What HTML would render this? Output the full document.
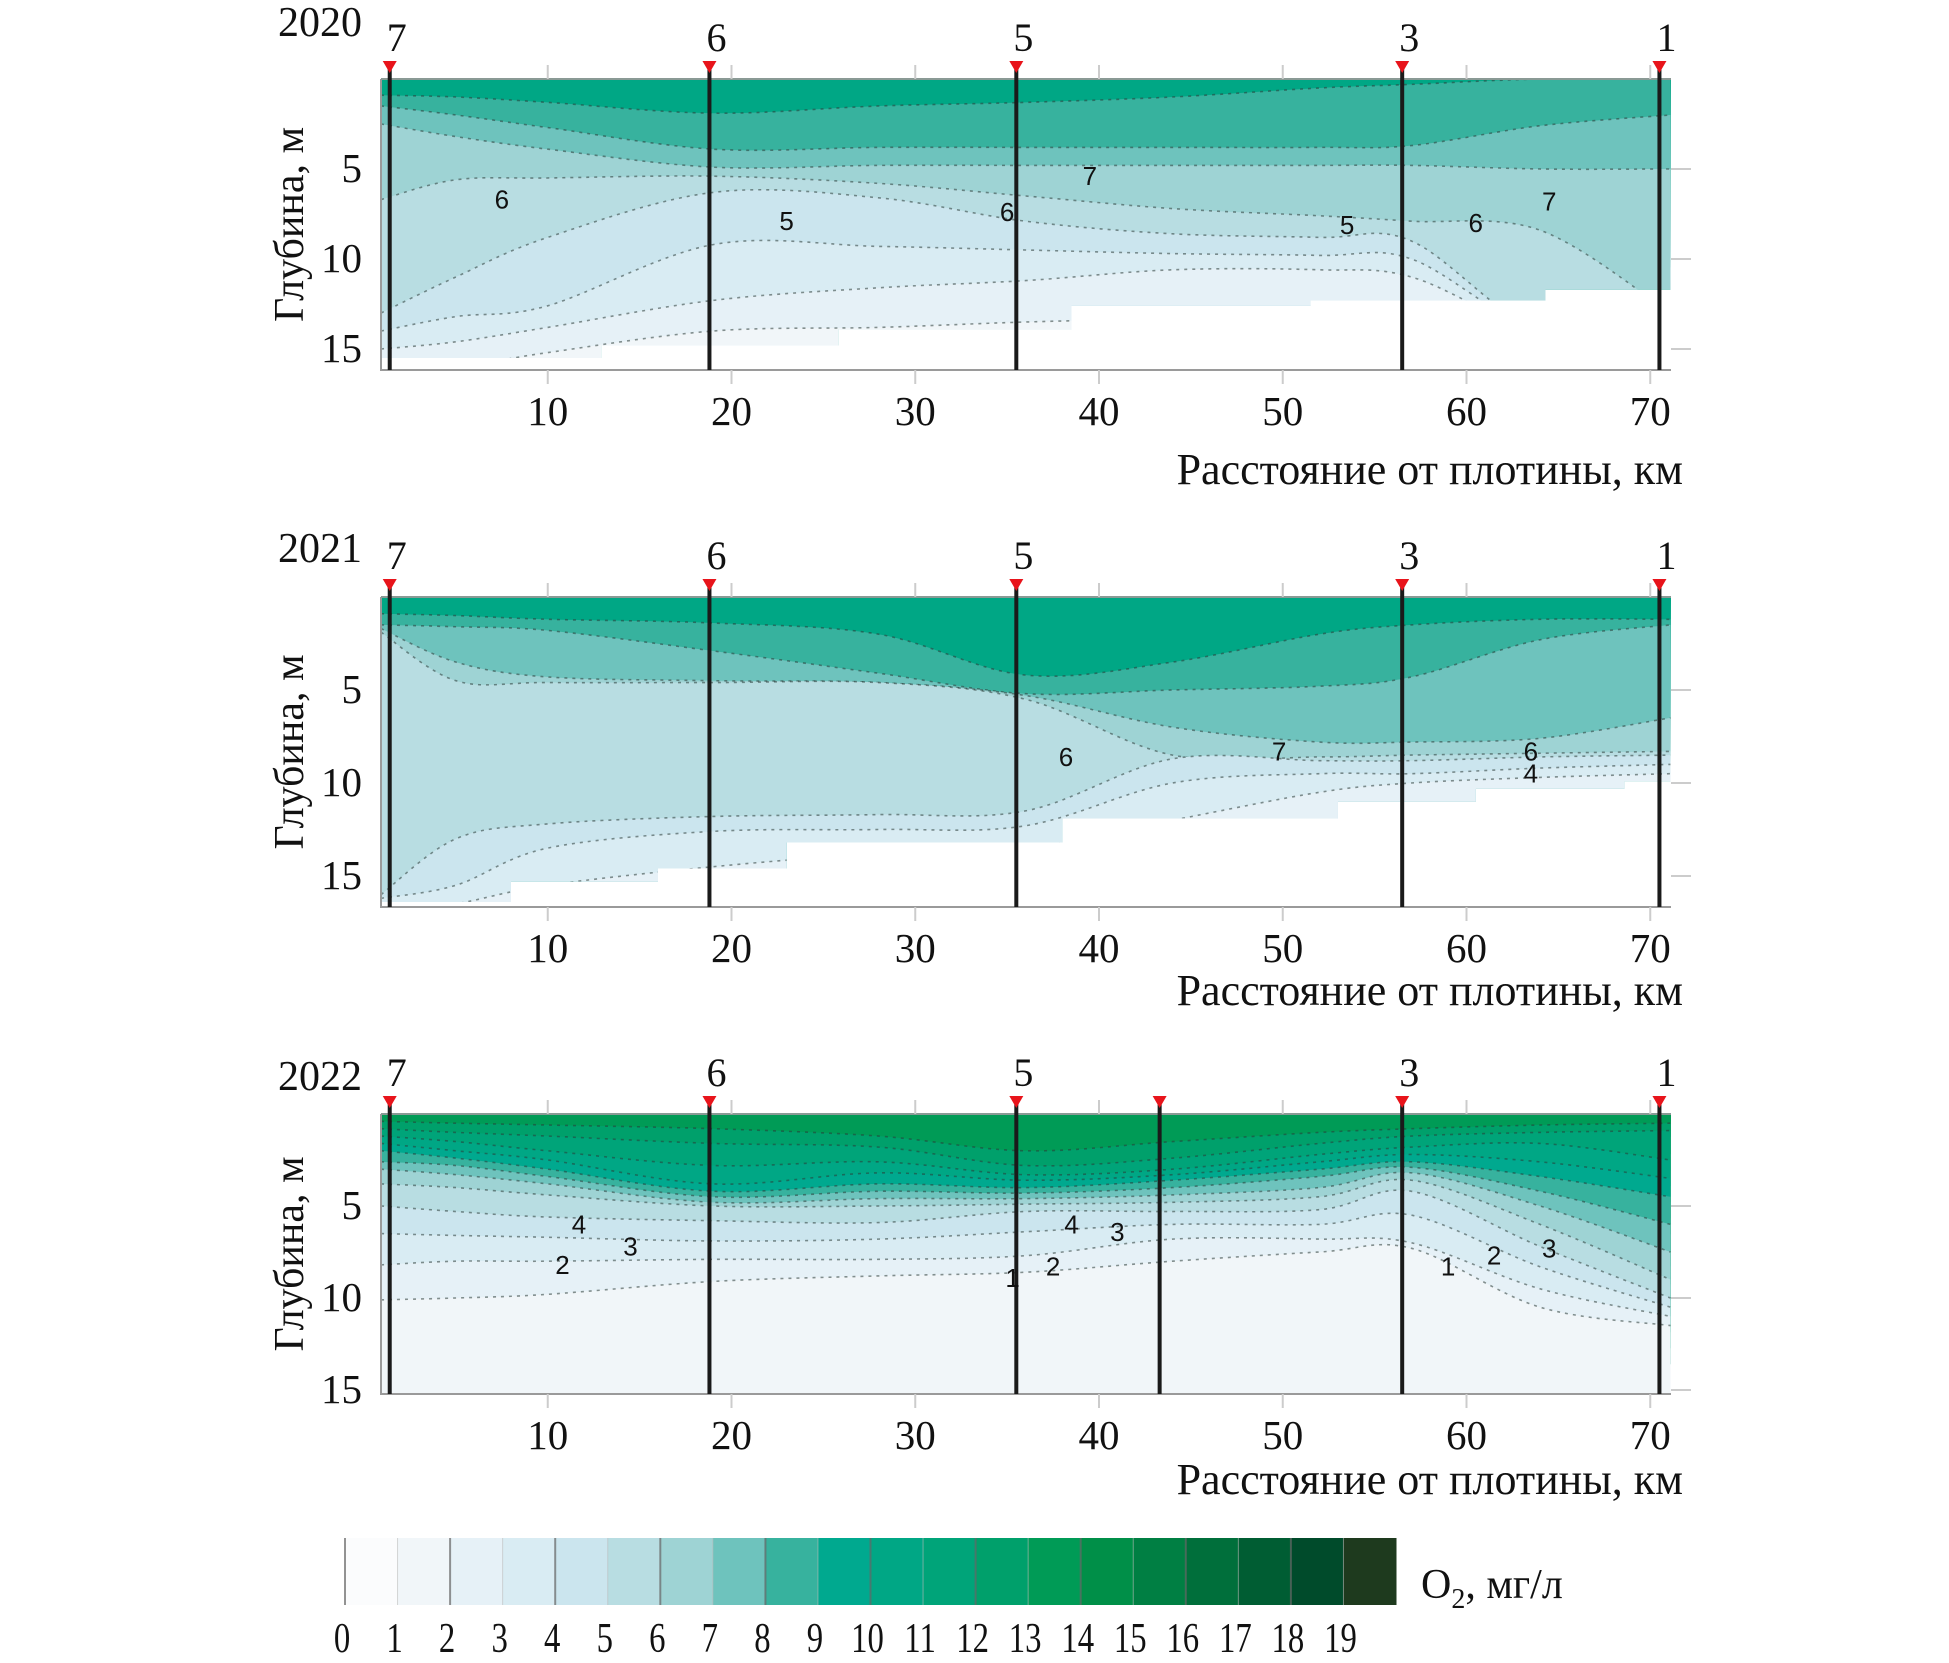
<!DOCTYPE html>
<html><head><meta charset="utf-8"><style>
html,body{margin:0;padding:0;background:#fff;}
svg{display:block;font-family:"Liberation Serif",serif;}
</style></head><body>
<svg id="fig" width="1949" height="1663" viewBox="0 0 1949 1663" xmlns="http://www.w3.org/2000/svg"></svg>
<script>
// ---------- data ----------
const binColors = ["#fbfcfd","#f1f6f9","#e6f1f7","#d9ecf3","#cbe5ee","#b8dde2","#9ed3d4","#6ec3bd","#37b29e","#00a98f","#00a785","#00a479","#00a06b","#009b56","#008f48","#007f43","#006f3b","#005d33","#004b2b","#1e3a1e"];
const colorbarLabels = [0,1,2,3,4,5,6,7,8,9,10,11,12,13,14,15,16,17,18,19];
const xTicks = [10,20,30,40,50,60,70];
const yTicks = [5,10,15];
const stationKm = [1.4, 18.8, 35.5, 56.5, 70.5];
const stationNames = ["7","6","5","3","1"];
const extraStation2022 = [43.3];
const gridKm = [0.93,5,10,19,28,36,44,52,57,64,71.1];

// 2020
const top2020 = 10;
const b2020_9 = [0.9,1.0,1.3,1.9,1.5,1.3,1.0,0.5,0.3,0,0];
const b2020_8 = [1.5,2.0,2.7,3.9,3.8,3.8,3.8,3.8,3.7,2.6,2.0];
const b2020_7 = [2.5,3.2,3.9,4.9,4.8,4.8,4.8,4.8,4.8,5.0,5.0];
const b2020_6 = [6.7,5.6,5.5,5.4,5.8,6.5,7.2,7.6,7.9,8.4,13];
const b2020_5 = [13,11,8.8,6.3,6.6,7.9,8.6,8.8,9.0,14,14];
const b2020_4 = [14,13.2,12.6,9.2,9.3,9.5,9.7,9.8,10.0,14,14];
const b2020_3 = [15,14.6,13.8,12.3,11.6,11.2,10.6,10.6,11,14,14];
const b2020_2 = [16,16,15.2,14,13.8,13.5,13.3,13,13,14,14];
const bot2020_k = [0.93,12.9,12.9,25.8,25.8,38.5,38.5,51.5,51.5,64.3,64.3,71.1];
const bot2020_d = [15.5,15.5,14.8,14.8,13.9,13.9,12.6,12.6,12.3,12.3,11.7,11.7];

// 2021
const top2021 = 10;
const b2021_9 = [0.9,1.0,1.2,1.4,2.0,4.2,3.5,2.0,1.5,1.2,1.2];
const b2021_8 = [1.5,1.6,1.8,2.9,4.1,5.2,5.0,4.8,4.3,2.3,1.5];
const b2021_7 = [1.7,3.5,4.3,4.5,4.6,5.3,7.0,7.8,7.8,7.6,6.5];
const b2021_6 = [1.9,4.5,4.6,4.6,4.6,5.5,8.5,8.6,8.5,8.4,8.3];
const b2021_5 = [16,13,12.2,11.8,11.7,11.5,8.7,8.8,8.8,8.6,8.5];
const b2021_4 = [16.2,15.5,13.5,12.6,12.5,12.3,10.0,9.5,9.5,9.2,9.0];
const b2021_3 = [17,16.5,15.5,14.5,13.8,13.5,12,10.5,10.0,9.7,9.5];
const bot2021_k = [0.93,8,8,16,16,23,23,38,38,53,53,60.5,60.5,68.6,68.6,71.1];
const bot2021_d = [16.4,16.4,15.3,15.3,14.6,14.6,13.2,13.2,11.9,11.9,11,11,10.3,10.3,9.9,9.9];

// 2022
const top2022 = 13;
const b2022_12 = [0.4,0.5,0.6,0.8,1.2,2.0,1.5,1.0,0.8,0.6,0.5];
const b2022_11 = [0.8,1.0,1.2,1.6,1.8,2.8,2.4,1.6,1.2,1.0,0.9];
const b2022_10 = [1.2,1.5,2.0,2.8,2.6,3.3,3.0,2.2,1.8,1.6,2.5];
const b2022_9 = [1.6,2.0,2.5,3.8,3.2,3.6,3.3,2.6,2.2,2.6,3.5];
const b2022_8 = [2.0,2.4,3.0,4.2,3.8,4.0,3.6,3.0,2.6,3.4,4.5];
const b2022_7 = [2.6,2.8,3.4,4.5,4.2,4.3,4.0,3.4,2.9,4.2,6.0];
const b2022_6 = [3.0,3.3,3.8,4.8,4.6,4.6,4.4,4.0,3.2,5.0,7.5];
const b2022_5 = [3.8,4.0,4.4,5.0,5.0,4.9,4.8,4.5,3.6,6.0,9.0];
const b2022_4 = [5.0,5.3,5.6,5.8,5.9,5.3,5.3,5.2,4.2,7.2,10.0];
const b2022_3 = [6.5,6.6,6.7,6.9,6.8,6.4,6.0,6.0,5.5,8.3,10.5];
const b2022_2 = [8.2,8.0,8.0,7.9,7.9,7.7,6.8,6.8,7.0,9.5,11];
const b2022_1 = [10.1,10.0,9.8,9.1,8.8,8.6,8.0,7.5,7.3,10.5,11.5];
const bot2022_k = [0.93,71.1];
const bot2022_d = [15.2,15.2];

// ---------- drawing ----------
const NS = "http://www.w3.org/2000/svg";
const svg = document.getElementById("fig");
function mk(tag, attrs, parent){
  const e = document.createElementNS(NS, tag);
  for (const k in attrs) e.setAttribute(k, attrs[k]);
  (parent||svg).appendChild(e);
  return e;
}
const X = km => 364 + km*18.375;
const PL = 381, PR = 1671;

function smoothPath(pts){
  let d = "M"+pts[0][0]+","+pts[0][1];
  for (let i=0;i<pts.length-1;i++){
    const p0 = pts[Math.max(0,i-1)], p1 = pts[i], p2 = pts[i+1], p3 = pts[Math.min(pts.length-1,i+2)];
    const c1x = p1[0]+(p2[0]-p0[0])/6, c1y = p1[1]+(p2[1]-p0[1])/6;
    const c2x = p2[0]-(p3[0]-p1[0])/6, c2y = p2[1]-(p3[1]-p1[1])/6;
    d += " C"+c1x+","+c1y+" "+c2x+","+c2y+" "+p2[0]+","+p2[1];
  }
  return d;
}

function panel(cfg){
  const Y = d => cfg.top + d*cfg.s;
  const g = mk("g", {});
  
  
  const cp = mk("clipPath", {id:"clip"+cfg.year}, g);
  let cd = "M"+PL+","+cfg.top;
  for (let i=0;i<cfg.botK.length;i++) cd += " L"+X(cfg.botK[i])+","+Math.min(Y(cfg.botD[i]),cfg.bottom);
  cd += " L"+PR+","+cfg.top+" Z";
  mk("path", {d:cd}, cp);
  const fg = mk("g", {"clip-path":"url(#clip"+cfg.year+")"}, g);
  const topRect = mk("rect", {x:PL,y:cfg.top,width:PR-PL,height:cfg.bottom-cfg.top,fill:binColors[cfg.topBin]}, fg);
  
  
  cfg.bounds.forEach(b=>{
    const pts = gridKm.map((k,i)=>[X(k), Y(b.depth[i])]);
    const line = smoothPath(pts);
    const area = line + " L"+PR+","+(cfg.bottom+50)+" L"+PL+","+(cfg.bottom+50)+" Z";
    const band = mk("path", {d:area, fill:binColors[b.bin]}, fg);
    
    
    const cl = mk("path", {d:line, fill:"none", stroke:"#2a3a36", "stroke-width":1.6, "stroke-dasharray":"3 5", opacity:0.55}, fg);
    
    
  });
  const ax = mk("path", {d:"M"+PL+","+cfg.top+" L"+PL+","+cfg.bottom+" L"+PR+","+cfg.bottom, fill:"none", stroke:"#9a9a9a", "stroke-width":2}, g);
  
  
  mk("line", {x1:PL,y1:cfg.top,x2:PR,y2:cfg.top,stroke:"#8a9a95","stroke-width":2}, g);
  xTicks.forEach(t=>{
    mk("line",{x1:X(t),y1:cfg.top-14,x2:X(t),y2:cfg.top,stroke:"#ccc","stroke-width":2},g);
    mk("line",{x1:X(t),y1:cfg.bottom,x2:X(t),y2:cfg.bottom+14,stroke:"#ccc","stroke-width":2},g);
    const tl = mk("text",{x:X(t),y:cfg.bottom+55,"font-size":41,"text-anchor":"middle",fill:"#111"},g);
    tl.textContent = t;
    
    
  });
  yTicks.forEach(t=>{
    mk("line",{x1:PR,y1:Y(t),x2:PR+20,y2:Y(t),stroke:"#ccc","stroke-width":2},g);
    const tl = mk("text",{x:362,y:Y(t)+13,"font-size":41,"text-anchor":"end",fill:"#111"},g);
    tl.textContent = t;
    
    
  });
  const xt = mk("text",{x:1683,y:cfg.xTitleY,"font-size":44,"text-anchor":"end",fill:"#111"},g);
  xt.textContent = "Расстояние от плотины, км";
  
  
  const yc = (cfg.top+cfg.bottom)/2;
  const yt = mk("text",{x:0,y:0,"font-size":42,"text-anchor":"middle",fill:"#111",transform:"translate(303,"+yc+") rotate(-90)"},g);
  yt.textContent = "Глубина, м";
  
  
  const yr = mk("text",{x:362,y:cfg.yearY,"font-size":42,"text-anchor":"end",fill:"#111"},g);
  yr.textContent = cfg.year;
  
  
  const all = stationKm.map((k,i)=>[k,stationNames[i]]).concat(cfg.extra.map(k=>[k,""]));
  all.forEach(([k,n])=>{
    const x = X(k);
    const sl = mk("line",{x1:x,y1:cfg.top-12,x2:x,y2:cfg.bottom,stroke:"#1a1a1a","stroke-width":4},g);
    
    
    const tri = mk("path",{d:"M"+(x-7)+","+(cfg.top-18)+" L"+(x+7)+","+(cfg.top-18)+" L"+x+","+(cfg.top-6)+" Z",fill:"#e8141b"},g);
    
    
    if (n){
      const st = mk("text",{x:x+7,y:cfg.top-28,"font-size":40,"text-anchor":"middle",fill:"#111"},g);
      st.textContent = n;
      
      
    }
  });
  cfg.labels.forEach(([k,d,t])=>{
    const cl = mk("text",{x:X(k),y:Y(d)+9,"font-size":26,"font-family":"Liberation Sans, sans-serif","text-anchor":"middle",fill:"#111"},g);
    cl.textContent = t;
    
    
  });
}

panel({year:"2020", top:79, bottom:370, s:18, topBin:top2020, botK:bot2020_k, botD:bot2020_d, extra:[], xTitleY:484, yearY:36,
  bounds:[{bin:8,depth:b2020_9},{bin:7,depth:b2020_8},{bin:6,depth:b2020_7},{bin:5,depth:b2020_6},{bin:4,depth:b2020_5},{bin:3,depth:b2020_4},{bin:2,depth:b2020_3},{bin:1,depth:b2020_2}],
  labels:[[7.5,6.7,"6"],[39.5,5.4,"7"],[64.5,6.8,"7"],[23,7.9,"5"],[35,7.4,"6"],[53.5,8.1,"5"],[60.5,8.0,"6"]]});
panel({year:"2021", top:597, bottom:907, s:18.6, topBin:top2021, botK:bot2021_k, botD:bot2021_d, extra:[], xTitleY:1005, yearY:562,
  bounds:[{bin:8,depth:b2021_9},{bin:7,depth:b2021_8},{bin:6,depth:b2021_7},{bin:5,depth:b2021_6},{bin:4,depth:b2021_5},{bin:3,depth:b2021_4},{bin:2,depth:b2021_3}],
  labels:[[38.2,8.6,"6"],[49.8,8.3,"7"],[63.5,8.3,"6"],[63.5,9.5,"4"]]});
panel({year:"2022", top:1114, bottom:1394, s:18.4, topBin:top2022, botK:bot2022_k, botD:bot2022_d, extra:extraStation2022, xTitleY:1494, yearY:1090,
  bounds:[{bin:12,depth:b2022_12},{bin:11,depth:b2022_11},{bin:10,depth:b2022_10},{bin:9,depth:b2022_9},{bin:8,depth:b2022_8},{bin:7,depth:b2022_7},{bin:6,depth:b2022_6},{bin:5,depth:b2022_5},{bin:4,depth:b2022_4},{bin:3,depth:b2022_3},{bin:2,depth:b2022_2},{bin:1,depth:b2022_1},],
  labels:[[11.7,6.0,"4"],[14.5,7.2,"3"],[10.8,8.2,"2"],[38.5,6.0,"4"],[41,6.4,"3"],[37.5,8.3,"2"],[35.3,8.9,"1"],[59,8.3,"1"],[61.5,7.7,"2"],[64.5,7.3,"3"]]});

// colorbar
const cb = mk("g",{});


const cbX0 = 345, cbW = 52.55, cbY = 1538, cbH = 67;
binColors.forEach((c,i)=>{
  const r = mk("rect",{x:cbX0+i*cbW,y:cbY,width:cbW+0.5,height:cbH,fill:c},cb);
  
  
  if (i%2===0) mk("line",{x1:cbX0+i*cbW,y1:cbY,x2:cbX0+i*cbW,y2:cbY+cbH,stroke:"#666","stroke-width":2,opacity:0.7},cb);
  else mk("line",{x1:cbX0+i*cbW,y1:cbY,x2:cbX0+i*cbW,y2:cbY+cbH,stroke:"#bbb","stroke-width":1,opacity:0.6},cb);
});
colorbarLabels.forEach((v,i)=>{
  const t = mk("text",{x:0,y:0,"font-size":42,"text-anchor":"middle",fill:"#111",transform:"translate("+(cbX0+i*cbW-3)+",1652) scale(0.78,1)"},cb);
  t.textContent = v;
  
  
});
const ut = mk("text",{x:1421,y:1598,"font-size":42,fill:"#111"},cb);
ut.innerHTML = 'O<tspan font-size="28" dy="10">2</tspan><tspan dy="-10">, мг/л</tspan>';


</script>
</body></html>
